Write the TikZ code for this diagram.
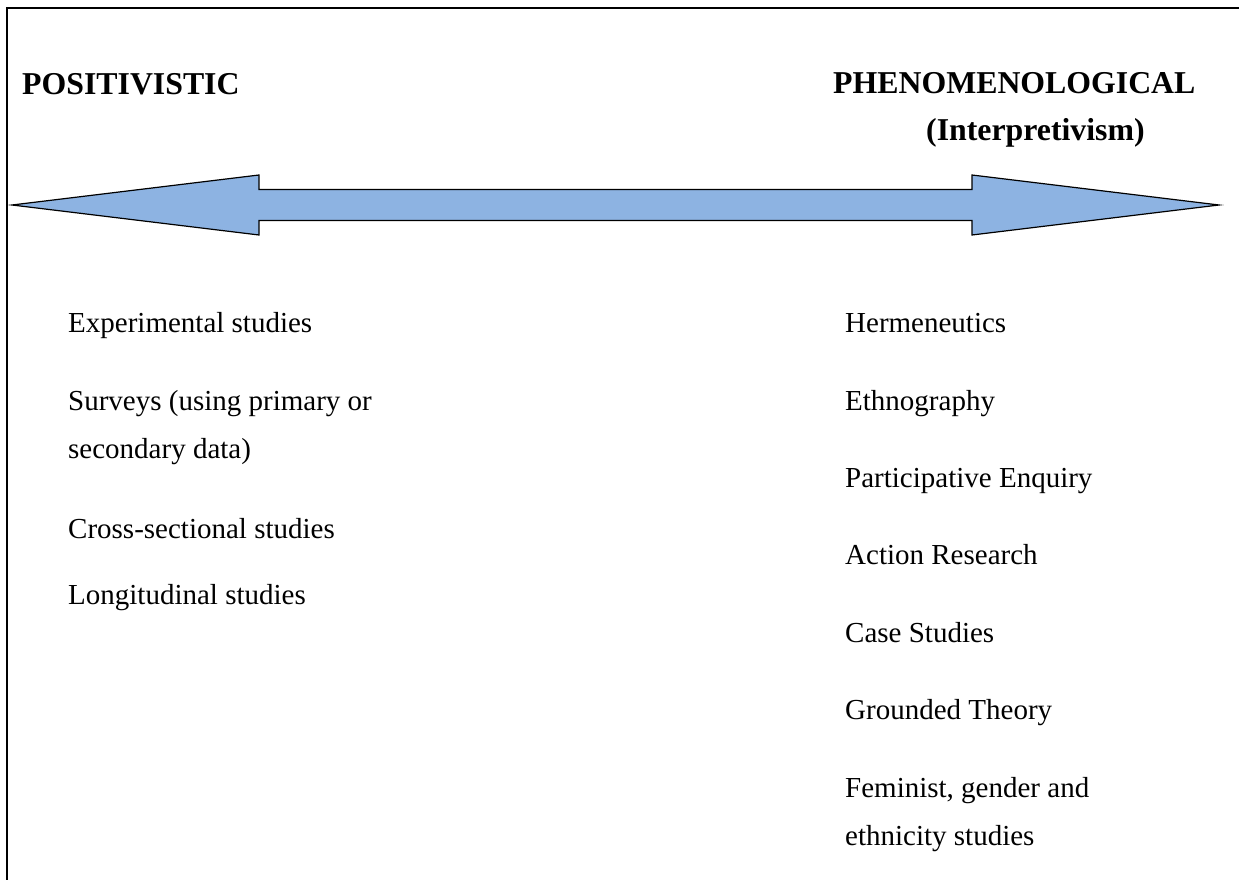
\documentclass[tikz,border=0pt]{standalone}
\usepackage{fontspec}
\setmainfont{Liberation Serif}
\definecolor{arrowblue}{RGB}{141,179,226}
\begin{document}
\begin{tikzpicture}[x=1pt,y=-1pt,
  heading/.style={anchor=base west,inner sep=0pt,font=\fontsize{31.8}{36}\selectfont\bfseries},
  item/.style={anchor=base west,inner sep=0pt,font=\fontsize{29}{34}\selectfont},
  frameline/.style={line width=2pt,line cap=rect},
  bigarrow/.style={draw=black,line width=1.2pt,fill=arrowblue,line join=miter}]
\useasboundingbox (0,0) rectangle (1239,880);

% partial frame: top and left edges
\coordinate (ftl) at (7,8);
\coordinate (ftr) at (1240,8);
\coordinate (fbl) at (7,881);
\draw[frameline] (ftr) -- (ftl) -- (fbl);

% headings
\node[heading] (pos) at (22,95) {POSITIVISTIC};
\node[heading] (phe) at (833,94) {PHENOMENOLOGICAL};
\node[heading] (int) at (926,140) {(Interpretivism)};

% double-headed arrow
\draw[bigarrow] (12,205) -- (259,175) -- (259,189.5) -- (972,189.5) -- (972,175)
  -- (1219,205) -- (972,235) -- (972,220.5) -- (259,220.5) -- (259,235) -- cycle;

% left column
\node[item] (l1) at (68,332) {Experimental studies};
\node[item] (l2) at (68,410) {Surveys (using primary or};
\node[item] (l3) at (68,458) {secondary data)};
\node[item] (l4) at (68,538) {Cross-sectional studies};
\node[item] (l5) at (68,604) {Longitudinal studies};

% right column
\node[item] (r1) at (845,332) {Hermeneutics};
\node[item] (r2) at (845,410) {Ethnography};
\node[item] (r3) at (845,487) {Participative Enquiry};
\node[item] (r4) at (845,564) {Action Research};
\node[item] (r5) at (845,642) {Case Studies};
\node[item] (r6) at (845,719) {Grounded Theory};
\node[item] (r7) at (845,797) {Feminist, gender and};
\node[item] (r8) at (845,845) {ethnicity studies};
\end{tikzpicture}
\end{document}
